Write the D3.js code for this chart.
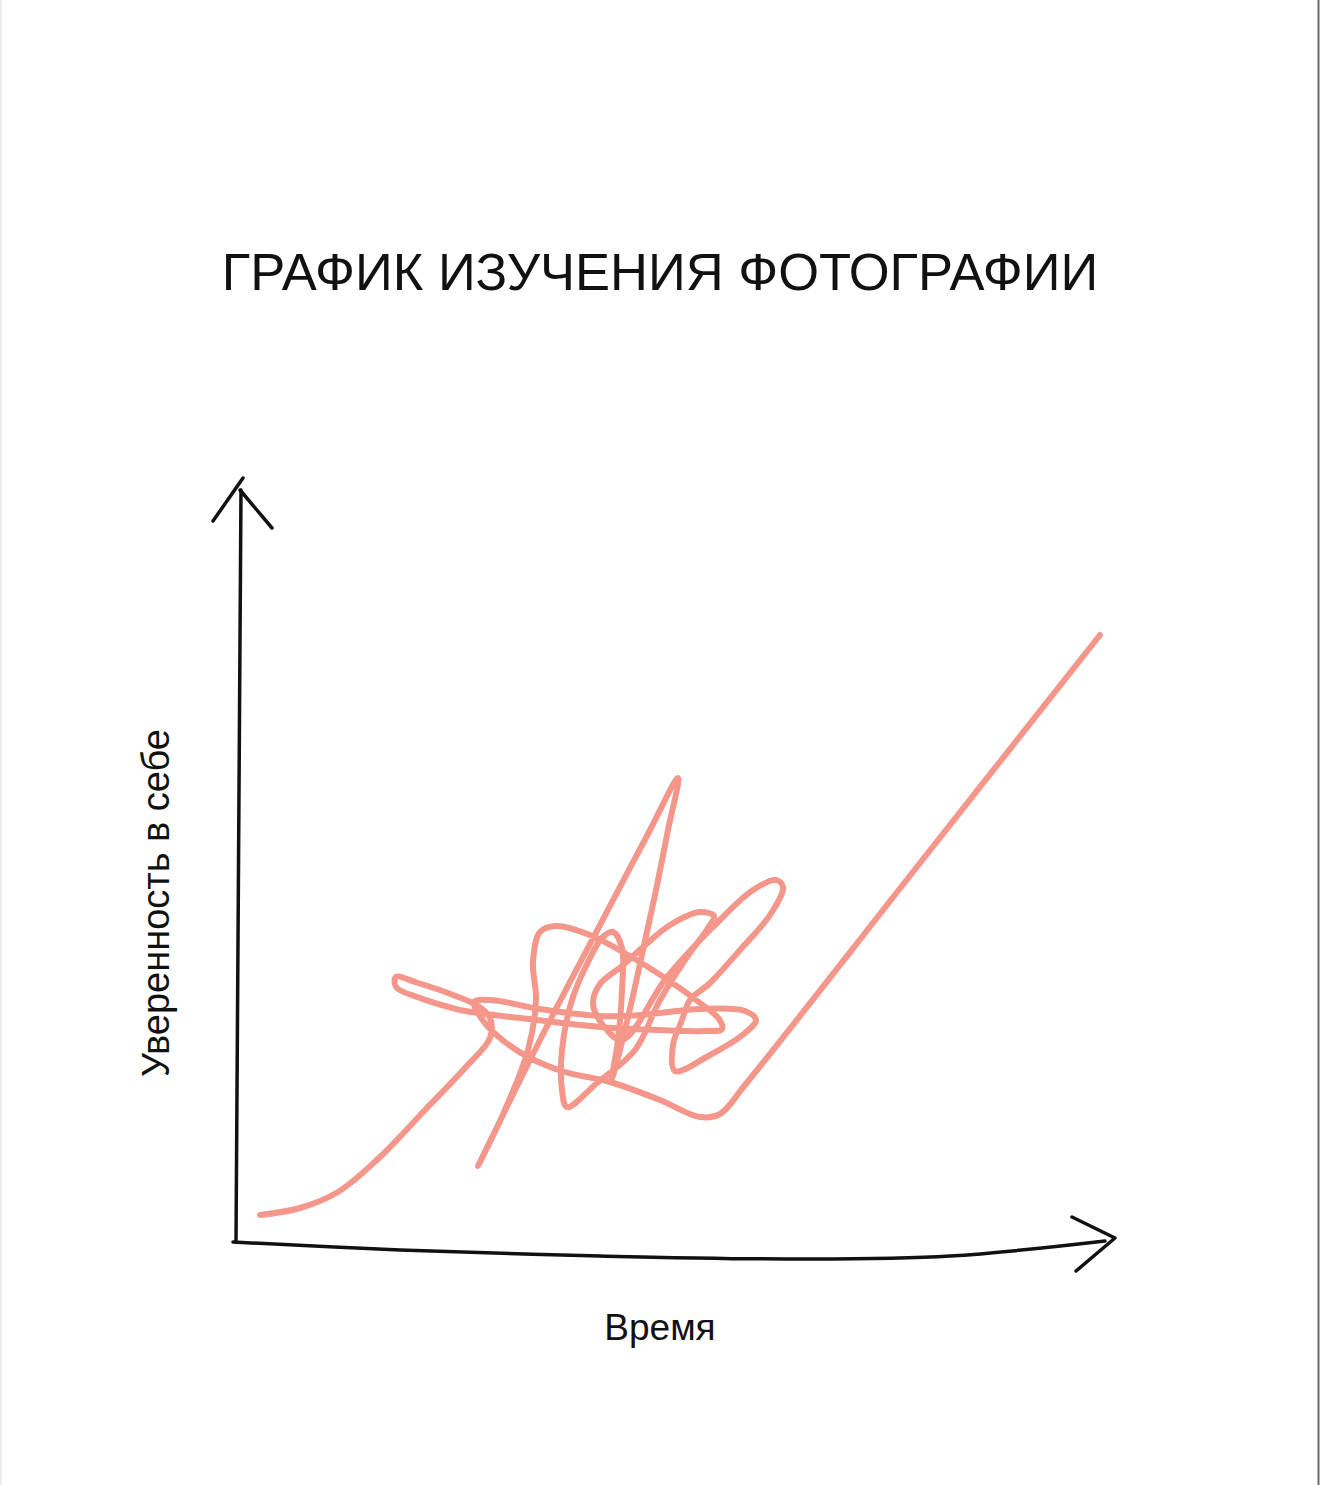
<!DOCTYPE html>
<html>
<head>
<meta charset="utf-8">
<script src="https://cdn.jsdelivr.net/npm/d3@7"></script>
<style>
  body { margin: 0; background: #fff; }
  text { font-family: "Liberation Sans", Arial, sans-serif; fill: #111; }
</style>
</head>
<body>
<script>
const width = 1320,
    height = 1485;

const title = "ГРАФИК ИЗУЧЕНИЯ ФОТОГРАФИИ",
    xLabel = "Время",
    yLabel = "Уверенность в себе";

// hand drawn axes, [time, confidence]
const yAxisLine = [[0.1, 0], [0.6, 75.2]];
const yArrow = [[-2.2, 72.1], [0.8, 76.4]];
const yArrow2 = [[0.5, 75.2], [3.7, 71.4]];
const xAxisLine = [[-0.2, 0], [16.5, -0.8], [36.5, -1.4], [56.5, -1.7], [71.5, -1.4], [87, 0.1]];
const xArrow = [[83.7, 2.5], [88, 0.4], [84.1, -2.9]];

// the learning curve, piece by piece
const rise = [[2.5, 2.7], [6.5, 3.4], [10.3, 5.0], [14.5, 8.5], [19.0, 13.2], [23.0, 17.4], [25.5, 20.4], [25.5, 22.4], [24.3, 23.6]];
const leftLoop = [[21.3, 24.9], [18.3, 25.9], [16.1, 26.5], [16.1, 25.5], [18.5, 24.4], [21.0, 23.6], [23.0, 23.1]];
const lowerDrift = [[30.2, 22.2], [36.5, 21.5], [42.5, 21.2], [47.0, 21.1], [48.7, 21.3], [48.4, 22.3]];
const bigLoop = [[46.5, 23.9], [43.3, 26.2], [39.3, 28.7], [35.5, 30.7], [32.1, 31.6], [30.5, 31.0], [29.8, 28.0], [30.1, 24.2], [29.3, 19.2], [27.0, 13.2], [24.3, 7.6]];
const spike = [[30.5, 20.2], [36.5, 31.7], [41.5, 41.2], [44.3, 46.4], [43.3, 41.2], [42.0, 34.7], [40.8, 29.2], [39.7, 24.2], [38.5, 19.2], [37.7, 16.4]];
const smallLoop = [[38.3, 20.2], [38.7, 25.2], [38.7, 29.4], [37.8, 31.0], [36.7, 30.4], [35.3, 28.0], [33.7, 24.2], [32.7, 19.2], [32.7, 15.2], [33.2, 13.5]];
const midLoop = [[36.2, 15.9], [40.0, 19.2], [42.5, 24.2], [45.2, 28.5], [47.3, 31.4], [47.9, 32.6], [46.5, 33.0], [43.5, 31.7], [40.8, 29.5]];
const curl = [[38.7, 27.6], [36.5, 25.8], [35.8, 23.8], [36.8, 21.7], [38.7, 20.2]];
const longLoop = [[43.2, 26.5], [47.8, 31.5], [51.8, 35.2], [54.1, 36.2], [54.8, 35.5], [53.5, 32.7], [50.5, 29.2], [47.5, 25.9], [45.5, 24.2]];
const corner = [[44.7, 22.2], [43.8, 19.7], [44.0, 17.1], [47.5, 18.7], [51.0, 20.9], [52.1, 22.2], [51.0, 23.1]];
const upperDrift = [[46.5, 23.3], [40.5, 22.7], [36.5, 22.6], [30.5, 23.3], [25.5, 24.2], [23.9, 24.0]];
const breakthrough = [[24.9, 22.0], [27.0, 20.0], [29.5, 18.4], [33.0, 17.0], [37.5, 16.0], [42.5, 14.2], [46.5, 12.5], [48.5, 12.8], [51.0, 15.7], [68.5, 37.9], [86.5, 60.7]];

const x = d3.scaleLinear().domain([0, 100]).range([235, 1235]);
const y = d3.scaleLinear().domain([0, 100]).range([1242, 242]);

const svg = d3.select('body')
    .append('svg')
    .attr('width', width)
    .attr('height', height);

svg.append('rect')
    .attr('width', width)
    .attr('height', height)
    .attr('fill', '#fff');

// photo edges
svg.append('line')
    .attr('x1', 1).attr('x2', 1).attr('y1', 0).attr('y2', height)
    .attr('stroke', '#ececec').attr('stroke-width', 2);
svg.append('line')
    .attr('x1', 1318.5).attr('x2', 1318.5).attr('y1', 0).attr('y2', height)
    .attr('stroke', '#6a6a6a').attr('stroke-width', 2);

const straight = d3.line()
    .x(d => x(d[0]))
    .y(d => y(d[1]));

const smooth = d3.line()
    .x(d => x(d[0]))
    .y(d => y(d[1]))
    .curve(d3.curveCatmullRom.alpha(0.5));

const axes = svg.append('g')
    .attr('fill', 'none')
    .attr('stroke', '#111')
    .attr('stroke-width', 3.5)
    .attr('stroke-linecap', 'round')
    .attr('stroke-linejoin', 'round');

axes.append('path').attr('d', straight(yAxisLine));
axes.append('path').attr('d', straight(yArrow));
axes.append('path').attr('d', straight(yArrow2));
axes.append('path').attr('d', smooth(xAxisLine));
axes.append('path').attr('d', straight(xArrow));

const scribble = [].concat(rise, leftLoop, lowerDrift, bigLoop, spike, smallLoop,
    midLoop, curl, longLoop, corner, upperDrift, breakthrough);

svg.append('path')
    .attr('d', smooth(scribble))
    .attr('fill', 'none')
    .attr('stroke', '#f4978a')
    .attr('stroke-width', 6)
    .attr('stroke-linecap', 'round')
    .attr('stroke-linejoin', 'round');

svg.append('text')
    .attr('x', 660)
    .attr('y', 290)
    .attr('text-anchor', 'middle')
    .style('font-size', '52.5px')
    .text(title);

svg.append('text')
    .attr('x', 660)
    .attr('y', 1340)
    .attr('text-anchor', 'middle')
    .style('font-size', '37px')
    .text(xLabel);

svg.append('text')
    .attr('transform', 'translate(169,903) rotate(-90)')
    .attr('text-anchor', 'middle')
    .style('font-size', '38px')
    .text(yLabel);
</script>
</body>
</html>
